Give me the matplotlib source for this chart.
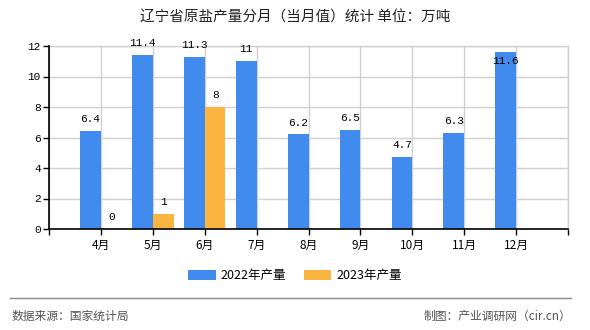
import matplotlib
matplotlib.use("Agg")
import matplotlib.pyplot as plt
from matplotlib.patches import Patch
from matplotlib.lines import Line2D

months = ["4月", "5月", "6月", "7月", "8月", "9月", "10月", "11月", "12月"]
values_2022 = [6.4, 11.4, 11.3, 11, 6.2, 6.5, 4.7, 6.3, 11.6]
values_2023 = [0, 1, 8, None, None, None, None, None, None]
series_names = ["2022年产量", "2023年产量"]
y_ticks = [0, 2, 4, 6, 8, 10, 12]

BLUE = "#418BEE"
ORANGE = "#FCB441"
CJK = ["Noto Sans CJK SC", "DejaVu Sans"]
NUM = ["Liberation Mono", "DejaVu Sans Mono"]

plt.rcParams["font.family"] = CJK

fig = plt.figure(figsize=(5.9, 3.3), dpi=100)
ax = fig.add_axes([49/590, 1-229/330, (568-49)/590, (229-46)/330])

w = 0.4
ymax = 12

def fmt(v):
    return ("%g" % v)

for i, v in enumerate(values_2022):
    ax.bar(i - w/2, v, width=w, color=BLUE, zorder=3)
    if v > 11.5:
        ax.annotate(fmt(v), (i - w/2, v), xytext=(0, -3), textcoords="offset points",
                    ha="center", va="top", fontsize=8, family=NUM, zorder=5)
    else:
        ax.annotate(fmt(v), (i - w/2, v), xytext=(0, 5), textcoords="offset points",
                    ha="center", va="bottom", fontsize=8, family=NUM, zorder=5,
                    annotation_clip=False)
for i, v in enumerate(values_2023):
    if v is None:
        continue
    ax.bar(i + w/2, v, width=w, color=ORANGE, zorder=3)
    ax.annotate(fmt(v), (i + w/2, v), xytext=(0, 5), textcoords="offset points",
                ha="center", va="bottom", fontsize=8, family=NUM, zorder=5)

ax.set_xlim(-1, len(months))
ax.set_ylim(0, ymax)
ax.set_yticks(y_ticks)
ax.set_yticklabels([str(t) for t in y_ticks], family=NUM, fontsize=8)
ax.set_xticks(list(range(-1, len(months) + 1)))
ax.set_xticklabels([""] + months + [""], fontsize=8.5)
ax.tick_params(axis="both", length=4, width=1, color="black", pad=2)
ax.tick_params(axis="x", pad=3)

ax.grid(True, color="#D0D0D0", linewidth=1, zorder=0)
ax.set_axisbelow(True)
for s in ["top", "right"]:
    ax.spines[s].set_color("#D0D0D0")
    ax.spines[s].set_linewidth(1)
for s in ["left", "bottom"]:
    ax.spines[s].set_color("black")
    ax.spines[s].set_linewidth(1.2)
    ax.spines[s].set_zorder(4)

fig.text(0.5, 1-18/330, "辽宁省原盐产量分月（当月值）统计 单位：万吨", ha="center", va="center",
         fontsize=10.5, color="#222222")

handles = [Patch(facecolor=BLUE), Patch(facecolor=ORANGE)]
leg = fig.legend(handles, series_names, loc="center", bbox_to_anchor=(0.5, 1-276/330), ncol=2,
                 frameon=False, fontsize=9, handlelength=2.2, handleheight=0.9,
                 handletextpad=0.4, columnspacing=1.4)

fig.add_artist(Line2D([10/590, 571/590], [1-298/330, 1-298/330], color="#888888", linewidth=1,
                      transform=fig.transFigure))
fig.text(12/590, 1-316/330, "数据来源：国家统计局", ha="left", va="center", fontsize=8.5, color="#555555")
fig.text(571/590, 1-316/330, "制图：产业调研网（cir.cn）", ha="right", va="center", fontsize=8.5,
         color="#555555")

fig.savefig("out.png", dpi=100)
